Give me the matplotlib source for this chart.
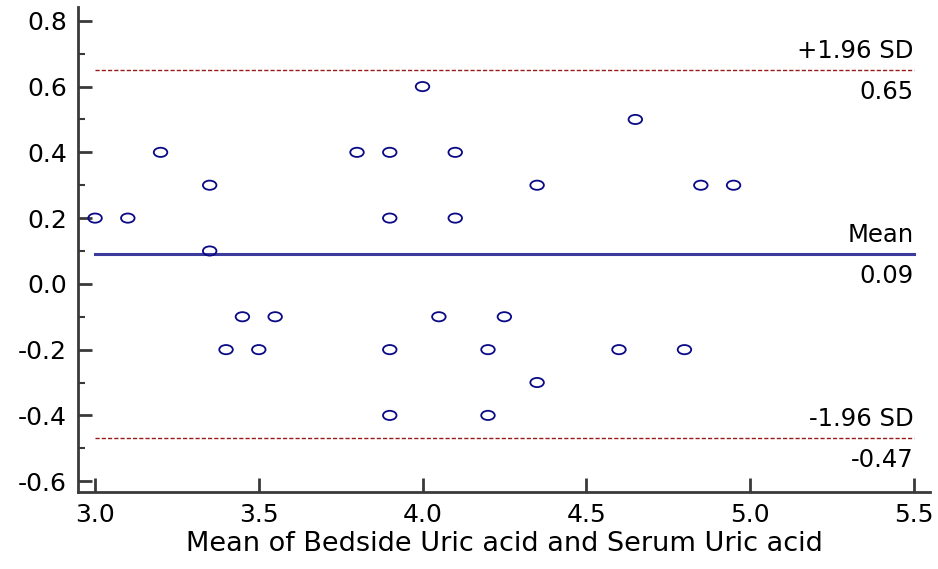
import matplotlib.pyplot as plt
import numpy as np
from matplotlib.path import Path
from matplotlib.transforms import Affine2D

plt.rcParams['font.family'] = ['DejaVu Sans']

# Data
mean_vals = [3.0, 3.1, 3.2, 3.35, 3.35, 3.4, 3.45, 3.5, 3.55, 3.8, 3.9, 3.9, 3.9, 3.9,
             4.0, 4.05, 4.1, 4.1, 4.2, 4.2, 4.25, 4.35, 4.35, 4.6, 4.65, 4.8, 4.85, 4.95]
diff_vals = [0.2, 0.2, 0.4, 0.3, 0.1, -0.2, -0.1, -0.2, -0.1, 0.4, 0.4, 0.2, -0.2, -0.4,
             0.6, -0.1, 0.4, 0.2, -0.2, -0.4, -0.1, 0.3, -0.3, -0.2, 0.5, -0.2, 0.3, 0.3]
mean_diff = 0.09
upper_loa = 0.65
lower_loa = -0.47
x_ticks = [3.0, 3.5, 4.0, 4.5, 5.0, 5.5]
y_ticks = [-0.6, -0.4, -0.2, 0.0, 0.2, 0.4, 0.6, 0.8]

fig = plt.figure(figsize=(9.38, 5.69), dpi=100)
ax = fig.add_axes([0.0832, 0.1353, 0.9083, 0.8524])

# Elliptical open marker
ellipse = Path.unit_circle().transformed(Affine2D().scale(1.0, 0.68))
ax.scatter(mean_vals, diff_vals, marker=ellipse, s=95, facecolors='none',
           edgecolors='#0a0a85', linewidths=1.3, zorder=3)

# Reference lines
ax.plot([3.0, 5.5], [mean_diff, mean_diff], color='#3b3b9e', lw=2.2)
ax.plot([3.0, 5.5], [upper_loa, upper_loa], color='#9b1b1b', lw=1, dashes=(3, 1.5))
ax.plot([3.0, 5.5], [lower_loa, lower_loa], color='#9b1b1b', lw=1, dashes=(3, 1.5))

# Labels for lines
labels = [(upper_loa, '+1.96 SD', '%.2f' % upper_loa),
          (mean_diff, 'Mean', '%.2f' % mean_diff),
          (lower_loa, '-1.96 SD', '%.2f' % lower_loa)]
for yv, top, bottom in labels:
    ax.annotate(top, (5.5, yv), xytext=(0, 5), textcoords='offset points',
                ha='right', va='bottom', fontsize=17.5)
    ax.annotate(bottom, (5.5, yv), xytext=(0, -7), textcoords='offset points',
                ha='right', va='top', fontsize=17.5)

ax.set_xlim(2.948, 5.55)
ax.set_ylim(-0.633, 0.842)
ax.set_xticks(x_ticks)
ax.set_xticklabels(['%.1f' % v for v in x_ticks])
ax.set_yticks(y_ticks)
ax.set_yticklabels(['%.1f' % v for v in y_ticks])
ax.set_yticks(np.arange(-0.5, 0.8, 0.2), minor=True)

for side in ['top', 'right']:
    ax.spines[side].set_visible(False)
for side in ['left', 'bottom']:
    ax.spines[side].set_color('#3a3a3a')
    ax.spines[side].set_linewidth(2)

ax.tick_params(axis='both', which='major', direction='in', length=10, width=2,
               color='#3a3a3a', labelsize=18, pad=8)
ax.tick_params(axis='y', which='minor', direction='in', length=5, width=1.5,
               color='#3a3a3a')
ax.tick_params(axis='x', which='minor', length=0)

ax.set_xlabel('Mean of Bedside Uric acid and Serum Uric acid', fontsize=19.5, labelpad=3)

fig.savefig('out.png', dpi=100)
